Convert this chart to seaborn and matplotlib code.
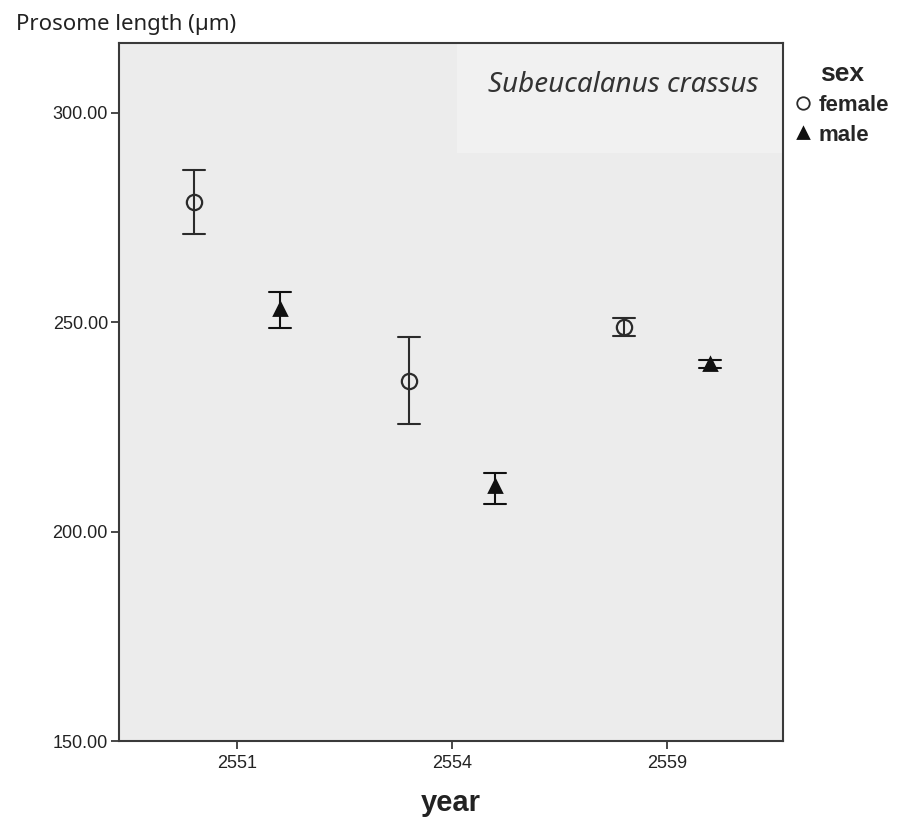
import numpy as np
import pandas as pd
import matplotlib
matplotlib.use("Agg")
import matplotlib.pyplot as plt
from matplotlib.ticker import FormatStrFormatter
from matplotlib.patches import Rectangle
import seaborn as sns

# Mean prosome length with lower / upper interval bounds per year and sex
years = ["2551", "2554", "2559"]
female_mean = [278.6, 236.0, 248.8]
female_low = [271.0, 225.6, 246.7]
female_high = [286.4, 246.4, 250.9]
male_mean = [253.2, 210.8, 240.1]
male_low = [248.5, 206.6, 239.0]
male_high = [257.2, 213.9, 241.0]
sexes = ["female", "male"]

rows = []
for sex, mean, low, high in [("female", female_mean, female_low, female_high),
                             ("male", male_mean, male_low, male_high)]:
    for y, m, lo, hi in zip(years, mean, low, high):
        for v in (lo, m, hi):
            rows.append({"year": y, "sex": sex, "length": v})
df = pd.DataFrame(rows)

sns.set_theme(style="white")
plt.rcParams["font.family"] = ["Liberation Sans", "DejaVu Sans"]

fig = plt.figure(figsize=(9.01, 8.23), dpi=100)
ax = fig.add_axes([119 / 901, 82 / 823, 664 / 901, 698 / 823])
ax.set_facecolor("#ECECEC")

# lighter panel behind the species name
ax.add_patch(Rectangle((0.509, 0.842), 0.491, 0.158, transform=ax.transAxes,
                       facecolor="#F1F1F1", edgecolor="none", zorder=0))

sns.pointplot(data=df, x="year", y="length", hue="sex", order=years,
              hue_order=sexes, estimator=np.median,
              errorbar=lambda v: (v.min(), v.max()),
              dodge=0.4, markers=["o", "^"], linestyle="none",
              palette=["#2b2b2b", "#111111"], capsize=0.1,
              markersize=11, err_kws={"linewidth": 1.5}, ax=ax)

for ln in ax.lines:
    if ln.get_marker() == "o":
        ln.set_markerfacecolor("none")
        ln.set_markeredgewidth(1.6)
    elif ln.get_marker() == "^":
        ln.set_markersize(8)

ax.set_xlim(-0.55, 2.54)
ax.set_ylim(150, 316.6)
ax.set_yticks([150, 200, 250, 300])
ax.yaxis.set_major_formatter(FormatStrFormatter("%.2f"))

for s in ax.spines.values():
    s.set_visible(True)
    s.set_color("#3a3a3a")
    s.set_linewidth(1.5)

ax.tick_params(axis="both", which="major", direction="out", length=6,
               width=1.3, color="#3a3a3a", labelsize=13, labelcolor="#222222",
               left=True, bottom=True, pad=2)
ax.tick_params(axis="x", pad=4)

ax.set_xlabel("year", fontsize=21, fontweight="bold", color="#222222", labelpad=12)
ax.set_ylabel("Prosome length (\u00b5m)", rotation=0, fontsize=16,
              family=["Noto Sans", "DejaVu Sans"], color="#222222",
              ha="center", va="center")
ax.yaxis.set_label_coords(0.01, 1.026)

ax.text(0.963, 0.94, "Subeucalanus crassus", transform=ax.transAxes,
        ha="right", va="center", fontsize=20, style="italic",
        family=["Noto Sans", "DejaVu Sans"], color="#333333")

# legend outside the panel on the right
handles, labels = ax.get_legend_handles_labels()
for h in handles:
    h.set_linestyle("none")
    if h.get_marker() == "o":
        h.set_markerfacecolor("none")
        h.set_markersize(9)
        h.set_markeredgewidth(1.3)
    else:
        h.set_markersize(7)
ax.legend(handles, labels, title="sex", loc="upper left",
          bbox_to_anchor=(0.995, 0.995), frameon=False, handlelength=0.7,
          handletextpad=0.35, labelspacing=0.4, borderpad=0.2,
          prop={"size": 16, "weight": "bold"},
          title_fontproperties={"size": 19, "weight": "bold"})

fig.savefig("out.png", dpi=100, facecolor="white")
